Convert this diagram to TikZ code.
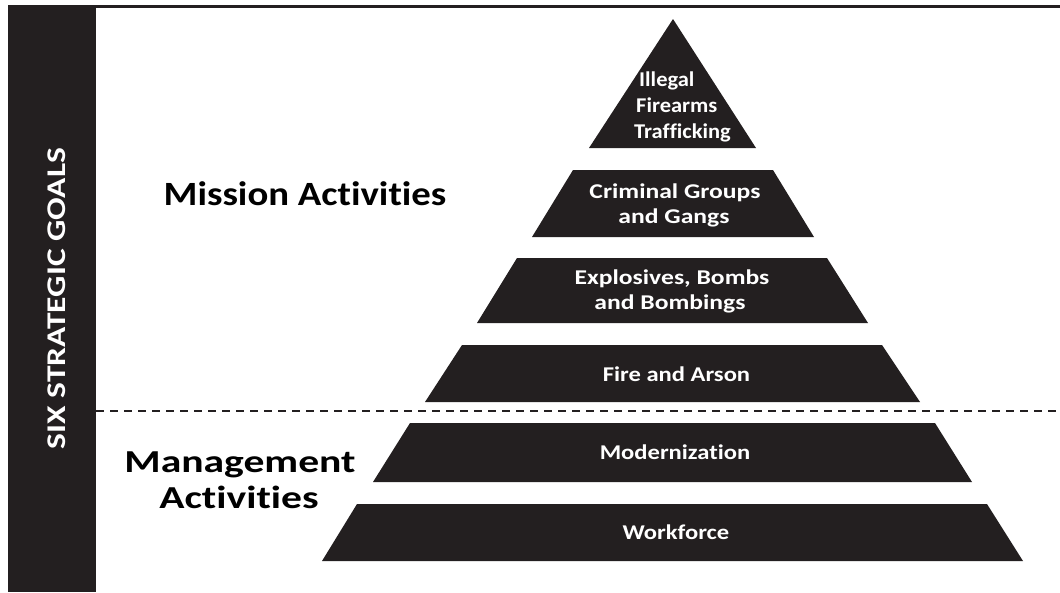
\documentclass[tikz,border=0pt]{standalone}
\usepackage{fontspec}
\setmainfont{Carlito}
\newfontfamily\pyrfont{Carlito}[FakeStretch=1.22, Ligatures=NoCommon]
\newfontfamily\lowfont{Carlito}[FakeStretch=1.17, Ligatures=NoCommon]
\newfontfamily\topfont{Carlito}[FakeStretch=1.07, Ligatures=NoCommon]
\newfontfamily\sidefont{Carlito}[FakeStretch=1.24, Ligatures=NoCommon]
\newfontfamily\misfont{Carlito}[FakeStretch=1.14, Ligatures=NoCommon]
\newfontfamily\mgtfont{Carlito}[FakeStretch=1.3, Ligatures=NoCommon]
\definecolor{ink}{HTML}{231F20}
\begin{document}
\begin{tikzpicture}[x=1pt,y=-1pt,
  tier/.style={fill=ink},
  lbl/.style={text=white, inner sep=0pt, anchor=base,
    font=\pyrfont\bfseries\fontsize{21}{25}\selectfont},
  lowlbl/.style={lbl, font=\lowfont\bfseries\fontsize{21}{25}\selectfont},
  toplbl/.style={lbl, anchor=base west, font=\topfont\bfseries\fontsize{21}{25}\selectfont},
  side/.style={text=white, inner sep=0pt, anchor=base, rotate=90,
    font=\sidefont\bfseries\fontsize{27}{30}\selectfont},
  head/.style={text=black, inner sep=0pt, anchor=base},
  divider/.style={line width=2pt, draw=ink, dash pattern=on 8pt off 6pt}]
\useasboundingbox (0,0) rectangle (1060,592);
% frame
\fill[ink] (8,5) rectangle (1060,8);
\fill[ink] (8,5) rectangle (96,592);
\node[side] (goals) at (65,298.5) {SIX STRATEGIC GOALS};
% pyramid tiers
\fill[tier] (673,19) -- (756,148) -- (589,148) -- cycle;
\fill[tier] (573,170) -- (773,170) -- (814,237) -- (532,237) -- cycle;
\fill[tier] (517,258) -- (827,258) -- (868,323) -- (477,323) -- cycle;
\fill[tier] (462,345) -- (882,345) -- (920,402) -- (425,402) -- cycle;
\fill[tier] (410,423) -- (935,423) -- (972,482) -- (373,482) -- cycle;
\fill[tier] (357,504) -- (987,504) -- (1023,561) -- (322,561) -- cycle;
% labels
\node[toplbl] (ill1) at (639,86) {Illegal};
\node[toplbl] (ill2) at (636,112) {Firearms};
\node[toplbl] (ill3) at (634,138) {Trafficking};
\node[lbl] (crim1) at (675,198) {Criminal Groups};
\node[lbl] (crim2) at (674,223) {and Gangs};
\node[lbl] (expl1) at (672,284) {Explosives, Bombs};
\node[lbl] (expl2) at (670,309) {and Bombings};
\node[lowlbl] (fire) at (676.5,381) {Fire and Arson};
\node[lowlbl] (mod) at (675,459) {Modernization};
\node[lowlbl] (work) at (676,539) {Workforce};
% divider
\coordinate (dl) at (96,411);
\coordinate (dr) at (1060,411);
\draw[divider] (dl) -- (dr);
% headings
\node[head, font=\misfont\bfseries\fontsize{34}{40}\selectfont] (mission) at (305,205) {Mission Activities};
\node[head, font=\mgtfont\bfseries\fontsize{32}{36}\selectfont] (mgmt1) at (240,472) {Management};
\node[head, font=\mgtfont\bfseries\fontsize{32}{36}\selectfont] (mgmt2) at (239,508) {Activities};
\end{tikzpicture}
\end{document}
